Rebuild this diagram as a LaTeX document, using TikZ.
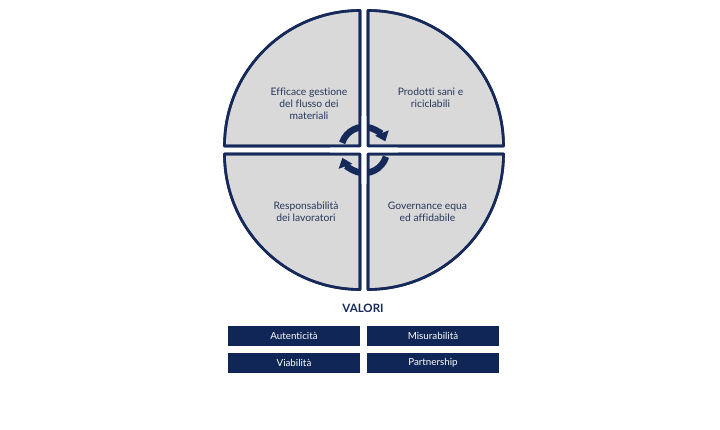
\documentclass[tikz,border=0pt]{standalone}
\usepackage{fontspec}
\setmainfont{Lato}[Ligatures=NoCommon]
\usetikzlibrary{arrows.meta}
\definecolor{navy}{HTML}{15295A}
\definecolor{boxnavy}{HTML}{0F2656}
\definecolor{quadgray}{HTML}{D9D9D9}
\definecolor{txt}{HTML}{26365A}
\tikzset{
  quad/.style={fill=quadgray, draw=navy, line width=2.6pt, line join=round},
  quadline/.style={draw=navy, line width=2.6pt, line join=round},
  qtext/.style={text=txt, align=center, font=\fontsize{10.3}{12}\selectfont},
  valbox/.style={fill=boxnavy, text=white, minimum width=132pt, minimum height=20pt, inner sep=0pt, font=\fontsize{9.8}{11}\selectfont},
  cyc/.style={draw=navy, line width=6.5pt, -{Triangle[width=14pt,length=9pt]}}
}
\begin{document}
\begin{tikzpicture}[x=1pt,y=1pt]
\useasboundingbox (0,0) rectangle (720,430);
\def\R{135.5pt}
% quadrants
\fill[white] (0,0) rectangle (720,430);
\path[quad] (368,284) -- ++(0:\R) arc (0:90:\R) -- cycle;
\path[quad] (360,284) -- ++(90:\R) arc (90:180:\R) -- cycle;
\path[quad] (360,276) -- ++(180:\R) arc (180:270:\R) -- cycle;
\path[quad] (368,276) -- ++(270:\R) arc (270:360:\R) -- cycle;
% cycle arrows
\coordinate (c) at (364,280);
\draw[cyc] (c) ++(162:23pt) arc (162:22:23pt);
\draw[cyc] (c) ++(-17:23pt) arc (-17:-160:23pt);
% white gaps and outlines over arrows
\fill[white] (361.3,246) rectangle (366.7,314);
\fill[white] (330,277.3) rectangle (398,282.7);
\draw[quadline] (368,284) -- ++(0:\R) arc (0:90:\R) -- cycle;
\draw[quadline] (360,284) -- ++(90:\R) arc (90:180:\R) -- cycle;
\draw[quadline] (360,276) -- ++(180:\R) arc (180:270:\R) -- cycle;
\draw[quadline] (368,276) -- ++(270:\R) arc (270:360:\R) -- cycle;
% quadrant texts
\node[qtext] (q1) at (309,326) {Efficace gestione\\del flusso dei\\materiali};
\node[qtext] (q2) at (430.5,332) {Prodotti sani e\\riciclabili};
\node[qtext] (q3) at (306,218) {Responsabilità\\dei lavoratori};
\node[qtext] (q4) at (427.5,218) {Governance equa\\ed affidabile};
% values
\node[text=navy, font=\fontsize{11.5}{13}\selectfont\bfseries] (valori) at (363,122) {VALORI};
\node[valbox] (b1) at (294,94) {Autenticità};
\node[valbox] (b2) at (433,94) {Misurabilità};
\node[valbox] (b3) at (294,67) {Viabilità};
\node[valbox] (b4) at (433,67) {Partnership};
\end{tikzpicture}
\end{document}
